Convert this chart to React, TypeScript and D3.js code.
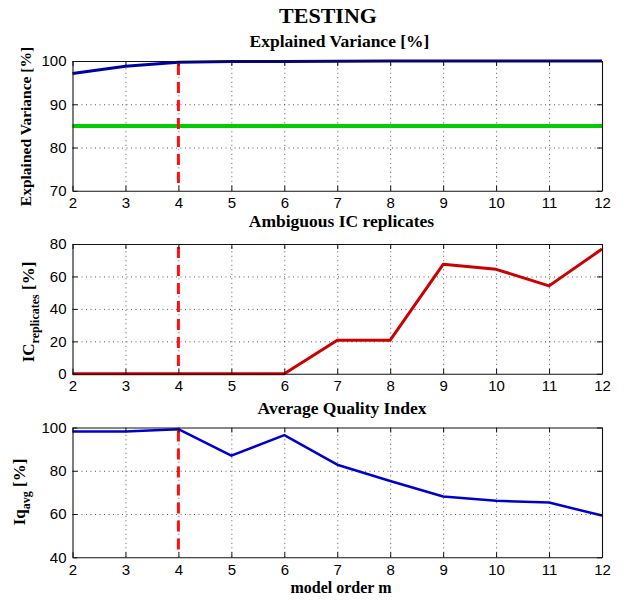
import React, { useRef, useEffect } from 'react';
import * as d3 from 'd3';

// model orders on the x axis
const modelOrders = [2, 3, 4, 5, 6, 7, 8, 9, 10, 11, 12];
const explainedVariance = [97.1, 98.8, 99.7, 99.9, 99.9, 99.95, 100, 100, 100, 100, 100];
const icReplicates = [0, 0, 0, 0, 0, 20.7, 20.7, 67.5, 64.4, 54.2, 76.9];
const iqAvg = [98.1, 98.2, 99.2, 87, 96.5, 82.8, 75.3, 68.1, 66.1, 65.3, 59.3];
const varianceThreshold = 85;
const selectedOrder = 4;

const xTicks = [2, 3, 4, 5, 6, 7, 8, 9, 10, 11, 12];
const varianceTicks = [70, 80, 90, 100];
const icTicks = [0, 20, 40, 60, 80];
const iqTicks = [40, 60, 80, 100];

const W = 627;
const H = 600;
const left = 72.5;
const right = 602;
const panelH = 129.8;
const serif = '"Liberation Serif", "Times New Roman", serif';
const sans = '"Liberation Sans", Arial, sans-serif';

export default function App() {
  const svgRef = useRef<SVGSVGElement>(null);

  useEffect(() => {
    const svg = d3.select(svgRef.current);
    svg.selectAll('*').remove();

    const x = d3.scaleLinear().domain([2, 12]).range([left, right]);

    const panels = [
      { top: 61, domain: [70, 100], ticks: varianceTicks, values: explainedVariance, color: '#0000a8', width: 3 },
      { top: 244, domain: [0, 80], ticks: icTicks, values: icReplicates, color: '#cc0000', width: 3 },
      { top: 427.5, domain: [40, 100], ticks: iqTicks, values: iqAvg, color: '#0000cc', width: 2.5 },
    ];

    panels.forEach((p, i) => {
      const y = d3.scaleLinear().domain(p.domain).range([p.top + panelH, p.top]);
      const g = svg.append('g');

      // grid
      const grid = g.append('g').attr('class', 'grid');
      grid
        .append('g')
        .attr('transform', `translate(0,${p.top + panelH})`)
        .call(d3.axisBottom(x).tickValues(xTicks.slice(1, -1)).tickSize(-panelH).tickFormat(() => ''));
      grid
        .append('g')
        .attr('transform', `translate(${left},0)`)
        .call(d3.axisLeft(y).tickValues(p.ticks.slice(1, -1)).tickSize(-(right - left)).tickFormat(() => ''));
      grid.selectAll('.domain').remove();
      grid
        .selectAll('line')
        .attr('stroke', '#444')
        .attr('stroke-width', 0.9)
        .attr('stroke-dasharray', '1,3.5');

      // threshold line
      if (i === 0) {
        g.append('line')
          .attr('x1', left)
          .attr('x2', right)
          .attr('y1', y(varianceThreshold))
          .attr('y2', y(varianceThreshold))
          .attr('stroke', '#00cc00')
          .attr('stroke-width', 4);
      }

      // data line
      const line = d3
        .line<number>()
        .x((_, j) => x(modelOrders[j]))
        .y((d) => y(d));
      g.append('path')
        .datum(p.values)
        .attr('d', line)
        .attr('fill', 'none')
        .attr('stroke', p.color)
        .attr('stroke-width', p.width)
        .attr('stroke-linejoin', 'round');

      // selected order marker
      g.append('line')
        .attr('x1', x(selectedOrder))
        .attr('x2', x(selectedOrder))
        .attr('y1', y(p.domain[1]) + 3)
        .attr('y2', y(p.domain[0]) - 4)
        .attr('stroke', '#ff1010')
        .attr('stroke-width', 3)
        .attr('stroke-dasharray', '11,7');

      // axes with inward ticks
      const axB = g
        .append('g')
        .attr('transform', `translate(0,${p.top + panelH})`)
        .call(d3.axisBottom(x).tickValues(xTicks).tickSizeInner(-5).tickSizeOuter(0).tickPadding(7));
      const axL = g
        .append('g')
        .attr('transform', `translate(${left},0)`)
        .call(d3.axisLeft(y).tickValues(p.ticks).tickSizeInner(-5).tickSizeOuter(0).tickPadding(6));
      g.append('g')
        .attr('transform', `translate(0,${p.top})`)
        .call(d3.axisTop(x).tickValues(xTicks).tickSizeInner(-5).tickSizeOuter(0).tickFormat(() => ''));
      g.append('g')
        .attr('transform', `translate(${right},0)`)
        .call(d3.axisRight(y).tickValues(p.ticks).tickSizeInner(-5).tickSizeOuter(0).tickFormat(() => ''));
      [axB, axL].forEach((a) =>
        a.selectAll('text').attr('font-family', sans).attr('font-size', 15).attr('fill', '#000')
      );
      g.selectAll('.domain').attr('stroke', '#111').attr('stroke-width', 1.1);
      g.selectAll('.tick line').filter(function () {
        return !(this as Element).closest('.grid');
      }).attr('stroke', '#111');
    });

    // texts
    const txt = (xp: number, yp: number, s: string, size: number) =>
      svg
        .append('text')
        .attr('x', xp)
        .attr('y', yp)
        .attr('text-anchor', 'middle')
        .attr('font-family', serif)
        .attr('font-weight', 'bold')
        .attr('font-size', size)
        .text(s);

    txt(328, 22.7, 'TESTING', 22);
    txt(339.5, 46.7, 'Explained Variance [%]', 17.5);
    txt(341.5, 227.3, 'Ambiguous IC replicates', 17.5);
    txt(342, 413.5, 'Average Quality Index', 17.5);
    txt(341, 593, 'model order m', 16);

    // y labels
    svg
      .append('text')
      .attr('transform', 'translate(31,126.5) rotate(-90)')
      .attr('text-anchor', 'middle')
      .attr('font-family', serif)
      .attr('font-weight', 'bold')
      .attr('font-size', 15.5)
      .text('Explained Variance [%]');

    const yl2 = svg
      .append('text')
      .attr('transform', 'translate(34,312) rotate(-90)')
      .attr('text-anchor', 'middle')
      .attr('font-family', serif)
      .attr('font-weight', 'bold')
      .attr('font-size', 17);
    yl2.append('tspan').text('IC');
    yl2.append('tspan').attr('font-size', 12).attr('dy', 5).text('replicates');
    yl2.append('tspan').attr('dy', -5).text(' [%]');

    const yl3 = svg
      .append('text')
      .attr('transform', 'translate(25,492) rotate(-90)')
      .attr('text-anchor', 'middle')
      .attr('font-family', serif)
      .attr('font-weight', 'bold')
      .attr('font-size', 17);
    yl3.append('tspan').text('Iq');
    yl3.append('tspan').attr('font-size', 12).attr('dy', 5).text('avg');
    yl3.append('tspan').attr('dy', -5).text(' [%]');
  }, []);

  return (
    <svg
      ref={svgRef}
      width={W}
      height={H}
      style={{ position: 'absolute', left: 0, top: 0, background: '#fff' }}
    />
  );
}
